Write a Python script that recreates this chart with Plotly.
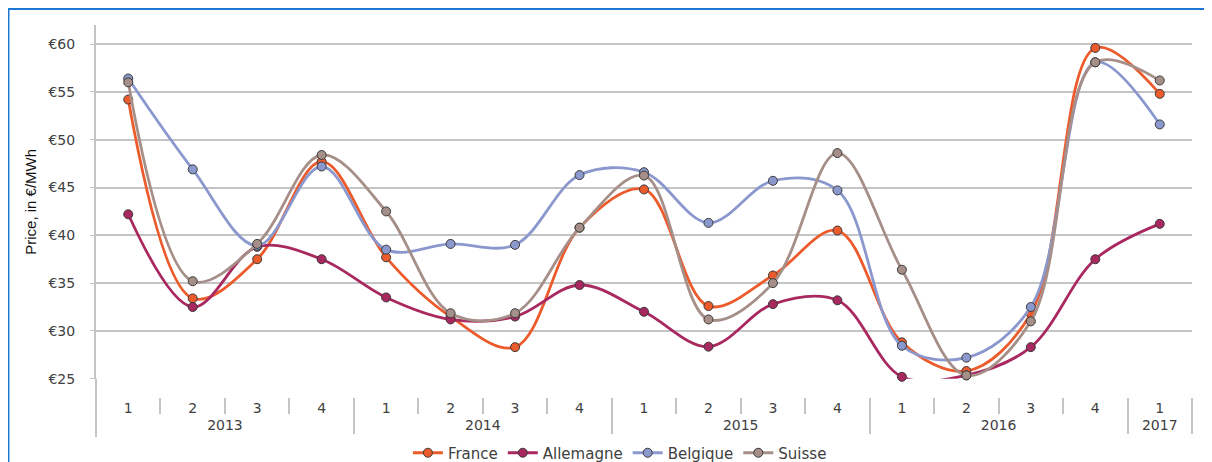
import plotly.graph_objects as go

# quarterly wholesale electricity prices, €/MWh
years = ['2013'] * 4 + ['2014'] * 4 + ['2015'] * 4 + ['2016'] * 4 + ['2017']
quarters = ['1', '2', '3', '4'] * 4 + ['1']

france = [54.2, 33.4, 37.5, 47.7, 37.7, 31.5, 28.3, 40.8, 44.8, 32.6, 35.8, 40.5,
          28.8, 25.8, 31.8, 59.6, 54.8]
allemagne = [42.2, 32.5, 38.8, 37.5, 33.5, 31.2, 31.5, 34.8, 32.0, 28.35, 32.8, 33.2,
             25.2, 25.35, 28.3, 37.5, 41.2]
belgique = [56.4, 46.9, 38.9, 47.2, 38.5, 39.1, 39.0, 46.3, 46.6, 41.3, 45.7, 44.7,
            28.45, 27.2, 32.5, 58.1, 51.6]
suisse = [56.0, 35.2, 39.1, 48.4, 42.5, 31.85, 31.85, 40.8, 46.25, 31.2, 35.0, 48.6,
          36.4, 25.35, 31.0, 58.1, 56.2]

y_ticks = [25, 30, 35, 40, 45, 50, 55, 60]
y_labels = ['€25', '€30', '€35', '€40', '€45', '€50', '€55', '€60']

series = [
    ('France', france, '#EC5B2C'),
    ('Allemagne', allemagne, '#A8285F'),
    ('Belgique', belgique, '#8B98CE'),
    ('Suisse', suisse, '#A68F88'),
]

fig = go.Figure()
for name, values, colour in series:
    fig.add_trace(go.Scatter(
        x=[years, quarters], y=values, name=name, mode='lines+markers',
        line=dict(color=colour, width=2.8, shape='spline', smoothing=1),
        marker=dict(size=9, color=colour, line=dict(color='#3A3A3A', width=1)),
        cliponaxis=False,
    ))

grey = '#C4C4C4'
y_bottom = 0.0492  # the category labels sit a little below the €25 line

# the page body has an 8px margin, so margins are shifted by that amount;
# the figure is a bit taller than the window so the legend fits without auto-margins
fig.update_layout(
    width=1212, height=480,
    margin=dict(l=88, r=28, t=17, b=91),
    paper_bgcolor='white', plot_bgcolor='white',
    font=dict(family='DejaVu Sans', size=14, color='#404040'),
    showlegend=True,
    legend=dict(orientation='h', x=0.478, xanchor='center', y=-0.1505, yanchor='middle',
                font=dict(size=15, color='#404040'), tracegroupgap=0),
    xaxis=dict(type='multicategory', range=[-0.5, 16.5], automargin=False,
               anchor='free', position=0,
               showgrid=False, showline=False,
               ticks='outside', ticklen=16, tickwidth=2, tickcolor=grey,
               ticklabelstandoff=1, showdividers=True, dividercolor=grey,
               dividerwidth=2, tickfont=dict(size=14)),
    yaxis=dict(domain=[y_bottom, 1], range=[25, 62], tickvals=y_ticks, ticktext=y_labels,
               automargin=False, showgrid=True, gridcolor=grey, gridwidth=1.5,
               showline=True, linecolor=grey, linewidth=2, ticks='outside', ticklen=4,
               tickcolor=grey, ticklabelstandoff=12, zeroline=False,
               tickfont=dict(size=14),
               title=dict(text='Price, in €/MWh', standoff=8,
                          font=dict(family='Liberation Sans Narrow, Liberation Sans',
                                    size=15, color='#111111'))),
)

# blue frame around the picture (cropped on the right and bottom)
fig.add_shape(type='rect', xref='paper', yref='paper', x0=-0.0803, x1=1.04,
              y0=-0.3, y1=1.0444, line=dict(color='#1C78D0', width=3))
# y axis line continues down past the category labels
fig.add_shape(type='line', xref='paper', yref='paper', x0=0, x1=0, y0=y_bottom,
              y1=-0.1075, line=dict(color=grey, width=2))

fig.write_html("out.html")
